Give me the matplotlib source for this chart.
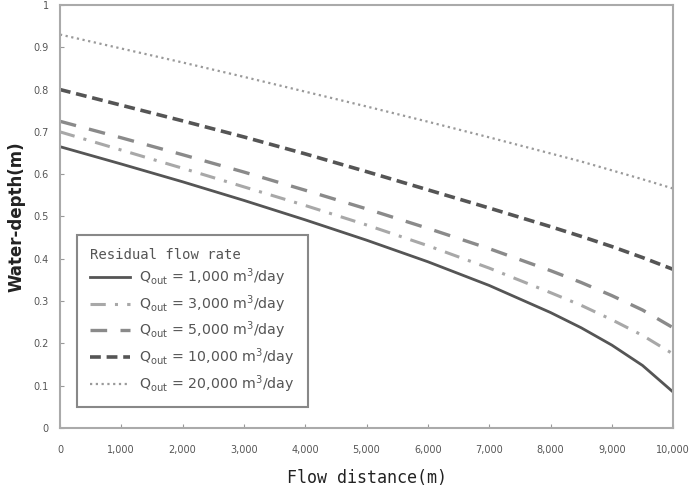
import numpy as np
import matplotlib
matplotlib.use('Agg')
import matplotlib.pyplot as plt
from matplotlib.ticker import FuncFormatter

# flow distance (m) and water depth (m)
distance = [0, 1000, 2000, 3000, 4000, 5000, 6000, 7000, 8000, 8500, 9000, 9500, 10000]
depth_1000 = [0.665, 0.624, 0.582, 0.538, 0.492, 0.444, 0.393, 0.337, 0.273, 0.237, 0.196, 0.148, 0.085]
depth_3000 = [0.700, 0.657, 0.614, 0.570, 0.526, 0.480, 0.431, 0.378, 0.320, 0.290, 0.256, 0.219, 0.175]
depth_5000 = [0.725, 0.686, 0.646, 0.605, 0.562, 0.518, 0.472, 0.424, 0.372, 0.344, 0.313, 0.279, 0.237]
depth_10000 = [0.800, 0.763, 0.726, 0.688, 0.648, 0.606, 0.563, 0.520, 0.476, 0.453, 0.429, 0.403, 0.375]
depth_20000 = [0.930, 0.897, 0.864, 0.830, 0.795, 0.760, 0.724, 0.687, 0.649, 0.630, 0.609, 0.588, 0.566]

labels = ['1,000', '3,000', '5,000', '10,000', '20,000']

fig = plt.figure(figsize=(6.89, 4.92), dpi=100)
ax = fig.add_axes([0.087, 0.130, 0.890, 0.860])

ax.plot(distance, depth_1000, color='#555555', lw=2.0, ls='-')
ax.plot(distance, depth_3000, color='#a8a8a8', lw=2.2, ls=(0, (5, 3, 1, 3)))
ax.plot(distance, depth_5000, color='#8a8a8a', lw=2.4, ls=(0, (5, 4)))
ax.plot(distance, depth_10000, color='#555555', lw=2.6, ls=(0, (3, 1.6)))
ax.plot(distance, depth_20000, color='#9a9a9a', lw=1.6, ls=(0, (1, 1.6)))

ax.set_xlim(0, 10000)
ax.set_ylim(0, 1)
ax.set_xticks(np.arange(0, 10001, 1000))
ax.set_yticks(np.arange(0, 1.01, 0.1))
ax.xaxis.set_major_formatter(FuncFormatter(lambda v, p: f'{int(v):,}'))
ax.yaxis.set_major_formatter(FuncFormatter(lambda v, p: '0' if v == 0 else ('1' if abs(v - 1) < 1e-9 else f'{v:.1f}')))
ax.tick_params(direction='in', length=3, width=0.8, color='#999999',
               labelcolor='#555555', labelsize=7, pad=12)
ax.tick_params(axis='y', pad=8)
for s in ax.spines.values():
    s.set_color('#aaaaaa')
    s.set_linewidth(1.5)

ax.set_xlabel('Flow distance(m)', family='DejaVu Sans Mono', fontsize=12,
              color='#222222', labelpad=10)
ax.set_ylabel('Water-depth(m)', family='DejaVu Sans', fontsize=12,
              fontweight='bold', color='#222222', labelpad=6)

handles = ax.get_lines()
leg_labels = [r'Q$_{\mathrm{out}}$ = ' + q + r' m$^{3}$/day' for q in labels]
leg = ax.legend(handles, leg_labels, title='Residual flow rate',
                loc='lower left', bbox_to_anchor=(0.028, 0.049),
                borderaxespad=0, fontsize=10.2, handlelength=2.8,
                labelspacing=0.35, fancybox=False, framealpha=1,
                edgecolor='#888888', alignment='left', borderpad=0.9,
                handletextpad=0.7)
leg.get_frame().set_linewidth(1.5)
leg.get_title().set_family('DejaVu Sans Mono')
leg.get_title().set_fontsize(10)
leg.get_title().set_color('#555555')
for t in leg.get_texts():
    t.set_color('#555555')

fig.savefig('out.png', dpi=100)
